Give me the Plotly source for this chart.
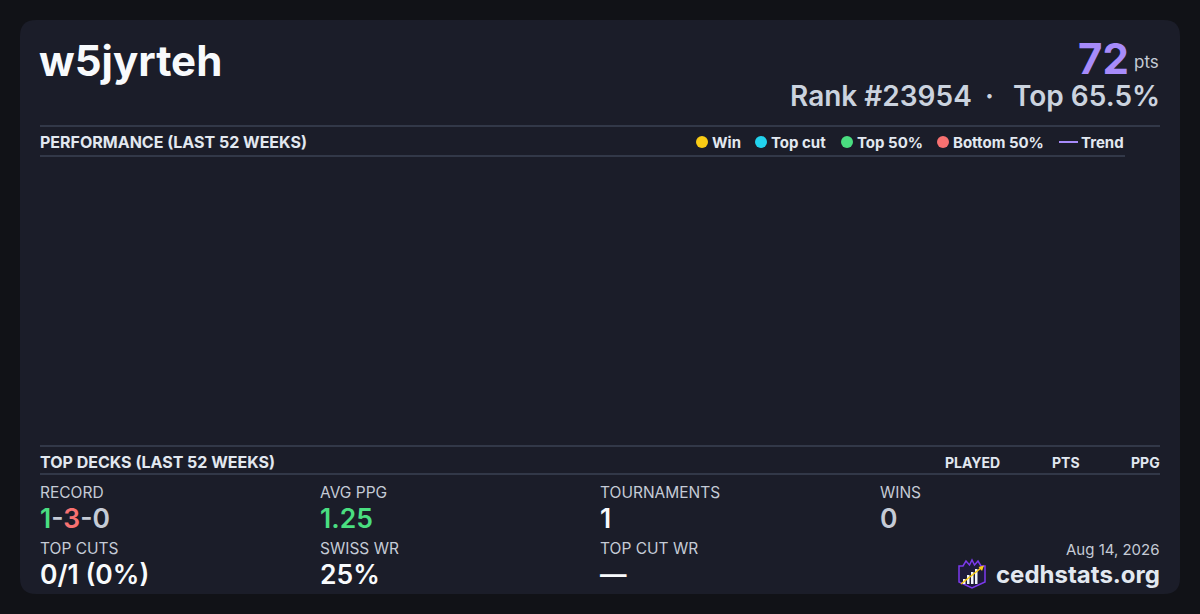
import plotly.graph_objects as go

# card data
player = "w5jyrteh"
points = 72
rank = 23954
top_pct = 65.5

legend_names = ["Win", "Top cut", "Top 50%", "Bottom 50%"]
legend_colors = ["#facc15", "#22d3ee", "#4ade80", "#f87171"]
trend_name = "Trend"
trend_color = "#a78bfa"

deck_columns = ["PLAYED", "PTS", "PPG"]

record = [1, 3, 0]
avg_ppg = 1.25
tournaments = 1
wins = 0
top_cuts = [0, 1]
swiss_wr = 25
top_cut_wr = None
snapshot_date = "Aug 14, 2026"
site = "cedhstats.org"

W, H = 1200, 614
BG = "#111217"
CARD = "#1b1d29"
RULE = "#4a5568"
WHITE = "#f8fafc"
LIGHT = "#e2e8f0"
GREY = "#c5cbd6"
FONT = "Inter"

fig = go.Figure()
shapes = []
ann = []


def text(x, y, s, size, color, weight=400, anchor="left"):
    ann.append(dict(x=x, y=y, xref="x", yref="y", text=s, showarrow=False,
                    xanchor=anchor, yanchor="middle",
                    font=dict(family=FONT, size=size, color=color, weight=weight)))


# card background with rounded corners
x0, y0, x1, y1, r = 20, 20, 1180, 594, 16
card_path = (f"M {x0+r} {y0} L {x1-r} {y0} Q {x1} {y0} {x1} {y0+r} "
             f"L {x1} {y1-r} Q {x1} {y1} {x1-r} {y1} L {x0+r} {y1} "
             f"Q {x0} {y1} {x0} {y1-r} L {x0} {y0+r} Q {x0} {y0} {x0+r} {y0} Z")
shapes.append(dict(type="path", path=card_path, xref="x", yref="y",
                   fillcolor=CARD, line=dict(width=0), layer="below"))

# header
text(37, 60, player, 42, WHITE, 700)
text(1131, 58, str(points), 42, trend_color, 700, "right")
text(1161, 62, "pts", 17, GREY, 400, "right")
text(974, 96, f"Rank #{rank}", 28, "#cbd3df", 600, "right")
text(989, 96, "·", 28, "#cbd3df", 600, "center")
text(1162, 96, f"Top {top_pct}%", 28, "#cbd3df", 600, "right")

# performance section
for yy, xe in [(126, 1160), (156, 1125)]:
    shapes.append(dict(type="line", x0=40, x1=xe, y0=yy, y1=yy, xref="x", yref="y",
                       line=dict(color=RULE, width=1)))
text(38, 142, "PERFORMANCE (LAST 52 WEEKS)", 16, LIGHT, 700)

dot_x = [702, 761, 847, 943]
fig.add_trace(go.Scatter(x=dot_x, y=[142] * len(dot_x), mode="markers",
                         marker=dict(size=12, color=legend_colors, line=dict(width=0)),
                         hoverinfo="skip", showlegend=False))
for dx, name in zip(dot_x, legend_names):
    text(dx + 8, 142, name, 15, LIGHT, 700)
fig.add_trace(go.Scatter(x=[1059, 1078], y=[142, 142], mode="lines",
                         line=dict(color=trend_color, width=2),
                         hoverinfo="skip", showlegend=False))
text(1079, 142, trend_name, 15, LIGHT, 700)

# top decks section
for yy in [446, 474]:
    shapes.append(dict(type="line", x0=40, x1=1160, y0=yy, y1=yy, xref="x", yref="y",
                       line=dict(color=RULE, width=1)))
text(38, 462, "TOP DECKS (LAST 52 WEEKS)", 16, LIGHT, 700)
for cx, col in zip([1002, 1082, 1162], deck_columns):
    text(cx, 462, col, 14, LIGHT, 700, "right")

# stats grid
rec = (f"<span style='color:#4ade80'>{record[0]}</span>"
       f"<span style='color:{GREY}'>-</span>"
       f"<span style='color:#f87171'>{record[1]}</span>"
       f"<span style='color:{GREY}'>-{record[2]}</span>")
stats = [
    ("RECORD", rec, WHITE),
    ("AVG PPG", f"{avg_ppg:.2f}", "#4ade80"),
    ("TOURNAMENTS", str(tournaments), WHITE),
    ("WINS", str(wins), GREY if wins == 0 else WHITE),
    ("TOP CUTS", f"{top_cuts[0]}/{top_cuts[1]} ({top_cuts[0] / top_cuts[1]:.0%})", WHITE),
    ("SWISS WR", f"{swiss_wr}%", WHITE),
    ("TOP CUT WR", "—" if top_cut_wr is None else f"{top_cut_wr}%", WHITE),
]
for i, (label, val, color) in enumerate(stats):
    cx = 40 + 280 * (i % 4)
    ry = 492 + 56 * (i // 4)
    text(cx - 2, ry, label, 15.5, GREY, 400)
    text(cx - 2, ry + 26, val, 26.5, color, 600)

# footer
text(1162, 549, snapshot_date, 15, GREY, 400, "right")
text(1162, 574, site, 24, LIGHT, 700, "right")

# logo
shield = ("M 959 566 L 963 566 L 966 561 L 969.5 565 L 972 560 L 974.5 565 L 978 561 "
          "L 981 566 L 985 566 L 985 582 L 972 588 L 959 582 Z")
shapes.append(dict(type="path", path=shield, xref="x", yref="y",
                   fillcolor="#1e1b3a", line=dict(color="#7c3aed", width=1.5)))
for bx, top in [(963, 579), (967, 575), (971, 572), (975, 569)]:
    shapes.append(dict(type="rect", x0=bx, x1=bx + 2.5, y0=top, y1=584, xref="x", yref="y",
                       fillcolor="#f1f5f9", line=dict(width=0)))
shapes.append(dict(type="line", x0=961, y0=584, x1=981, y1=568, xref="x", yref="y",
                   line=dict(color="#facc15", width=1.6)))
shapes.append(dict(type="path", path="M 984 565.5 L 978.5 567 L 982 571 Z", xref="x", yref="y",
                   fillcolor="#facc15", line=dict(width=0)))

fig.update_layout(
    width=W, height=H,
    margin=dict(l=0, r=0, t=0, b=0),
    paper_bgcolor=BG, plot_bgcolor=BG,
    xaxis=dict(range=[0, W], visible=False, fixedrange=True),
    yaxis=dict(range=[H, 0], visible=False, fixedrange=True),
    shapes=shapes, annotations=ann,
    showlegend=False,
)

# the page's default body margin would shift the card by 8px
fig.write_html("out.html", config={"displayModeBar": False},
               post_script="document.body.style.margin='0';document.body.style.overflow='hidden';")
